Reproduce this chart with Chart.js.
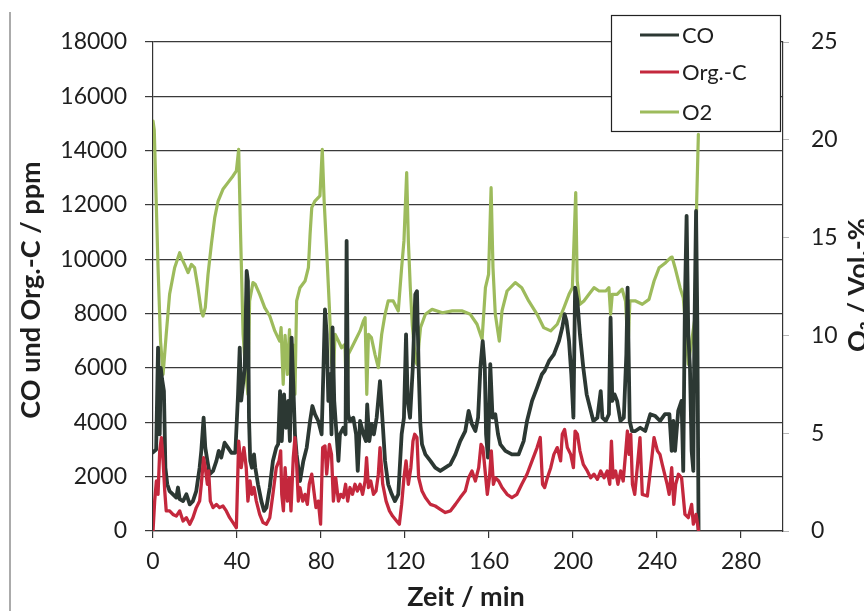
<!DOCTYPE html>
<html>
<head>
<meta charset="utf-8">
<script src="https://cdn.jsdelivr.net/npm/chart.js@4.4.1/dist/chart.umd.min.js"></script>
<style>
  html, body { margin: 0; padding: 0; background: #fff; }
  #wrap { width: 864px; height: 611px; position: relative; }
  canvas { display: block; }
</style>
</head>
<body>
<div id="wrap"><canvas id="c" width="864" height="611"></canvas></div>
<script>
// ---- Data ----
const seriesNames = ['CO', 'Org.-C', 'O2'];
const xTickStep = 40;

const coTime = [0,1.5,2.4,3.2,3.7,4.3,5.2,5.9,6.8,7.9,9.5,11.1,11.9,12.7,14.3,15.9,17.5,19,20.6,22.2,23,24.1,24.9,25.9,27,28.6,30.2,31.3,32.5,34.1,35.7,37.3,39.2,40.5,41.3,42,43.7,44.6,45.2,45.7,46.3,47.1,48.1,48.7,50,51.6,52.9,54,55.6,57.1,58.7,59.6,60.5,61.3,62.4,63.3,64.4,65.2,66,66.8,67.6,68.4,70,71.6,73.2,74.8,75.9,77.1,78.7,80.3,81.1,81.9,82.7,83.5,84.3,85,85.5,86.3,87.4,88.3,89,90.6,91.7,92.2,92.9,93.8,95.4,96.7,97.5,98.6,100.2,101.4,102,103,104.1,105.2,106.5,108.1,109.4,110.5,112,113.7,115.2,116.8,118.4,119.5,120.5,121.3,122.4,123.7,124.9,125.7,126.5,127.3,128.1,129.7,132.1,134.4,136.8,139.2,141.6,144,146.3,148.7,150.3,151.9,153.5,154.8,155.9,157,158,158.6,159.5,160.6,161.7,163,164.3,165.4,167.8,170.9,174.1,176.5,178.1,180.5,182.9,185.2,186.5,188.6,190.9,193.3,194.9,196,196.9,198.1,199.2,200.2,201,202.1,203.3,204.9,206.5,208.1,209.7,211.6,213.2,214,215.6,217.1,217.9,218.7,219.8,221,222.6,224.2,225.4,226,227,228.1,229.7,232,234.4,236.8,239.2,241.5,243.8,245.9,247,247.8,248.6,250.1,251.7,252.5,253.3,254.1,254.9,255.7,256.5,257.3,257.8,258.6,259.2,259.8];
const coValues = [2900,3000,6750,3560,6000,5600,5150,2330,1720,1470,1350,1230,1600,1170,1100,1350,980,1100,1470,2330,2950,4170,3070,2580,2090,2210,2580,2950,2700,3250,3070,2880,2880,5030,6750,4800,6000,9570,9200,4170,2580,2330,2820,2330,1720,1100,740,860,1600,2580,3070,3200,5150,3310,5030,3800,4790,3310,7120,5400,3560,2820,1840,2580,3070,4050,4600,4300,4050,3560,5770,8160,7240,4790,5770,3560,7490,4790,3560,2580,3560,3800,3560,10680,4300,4050,4170,3560,2210,4050,3560,3310,4660,3310,3930,3560,4170,5520,3930,2580,1720,1350,1100,1350,3560,4170,7240,4790,4170,6000,8710,8830,6010,3930,3190,2820,2580,2330,2210,2330,2450,2820,3310,3680,4420,3930,3680,4170,6010,6990,6010,3560,2700,6140,4170,4300,3560,3190,2950,2820,2820,3310,4050,4790,5280,5770,5900,6260,6500,6990,7490,7980,7730,6990,5770,4170,8960,8470,7240,6010,5030,4540,4050,4170,5150,4170,4050,4300,7850,4790,5030,4790,4050,4170,6500,8960,4050,3680,3680,3800,3680,4300,4230,4050,4300,4300,2950,4050,2950,4420,4790,2210,8470,11600,7240,6010,2950,2210,7240,11780,7730,0];

const orgTime = [0,0.8,1.6,2.4,3.2,4,4.8,5.6,6.3,7.9,9.5,11.1,12.7,14.3,15.9,17.5,19,20.6,22.2,23,24.1,24.9,25.9,26.5,27.3,28.6,30.2,31.7,33.3,34.9,36.5,38.1,39.7,40.8,42,43.3,44.4,45.2,46.2,47.1,48.1,49.2,50.8,52.4,54,55.6,57.1,58.7,60,60.8,61.3,62.1,62.9,64,64.9,65.7,66.8,67.6,68.4,69.2,70,71.3,72.4,73.5,74.4,75.6,76.4,77.6,78.7,79.8,80.8,81.9,82.7,84,85,85.9,87,88.3,89.4,90.6,91.7,92.7,93.8,95,96.2,97.3,98.6,99.8,101,101.7,102.6,103.7,105,106.2,107.3,108.1,109.4,111,112.6,114.1,116,117.3,118.4,119.5,120.5,121.6,122.8,123.8,124.6,125.7,126.5,128.1,129.7,132.1,134.4,136.8,139.2,141.6,144,146.3,148.7,150.3,151.9,153.5,155.1,156.2,157.1,158.3,159.2,160.2,161.1,162.1,163,164.6,166.2,168.6,170.9,173.3,175.6,178.1,180.5,182.9,184.4,185.5,186.5,187.8,189.4,190.9,192.5,194.1,194.9,196,197.3,198.9,200.2,201,202.1,203.3,204.9,206.8,208.4,210,211.6,213.2,214.8,216.3,217.5,218.3,219.1,220.3,221.4,222.7,223.9,225,225.9,226.7,227.5,228.3,229.4,230.6,231.9,233,235.4,237,238.6,240.2,241.4,242.5,244.9,245.8,247,248,248.9,250.2,251.7,253.3,254.9,256.5,257.3,258.6,259.8];
const orgValues = [0,1100,1840,1350,2950,3440,2580,1470,740,740,610,550,740,370,490,250,490,860,1100,1720,2700,2330,1720,2210,1100,860,980,860,920,740,490,310,120,3310,2330,3070,2330,1100,1840,1350,1600,1100,610,310,250,490,1350,2330,2580,2950,1350,740,2330,1100,1960,740,2700,3440,2450,1100,1600,1100,1350,980,1720,2090,1600,860,1100,250,3070,3130,2090,3190,2820,1100,1960,1100,1350,1230,1720,1100,1600,1350,1720,1470,1720,1350,1840,2700,1600,1840,1350,1470,2090,3070,1720,1100,740,550,370,250,980,1960,2580,1720,2330,3310,3560,3440,1960,1470,1230,980,920,800,680,740,980,1230,1470,1960,2210,1840,2330,3190,3070,2090,1350,1960,2950,1720,1960,1840,1600,1350,1230,1350,1720,2090,2580,3070,3440,1720,1600,1960,2330,2820,3070,2580,3560,3740,3070,2820,2330,3680,3560,2950,2450,2210,1960,2090,1900,2210,1960,2210,1720,3310,1960,2210,1720,2210,1840,2820,3680,2820,3560,1720,1350,2330,3440,1350,1290,2330,3440,2950,2820,2450,1700,1350,2330,980,1720,2090,1960,610,490,980,250,610,0];

const o2Time = [0,0.6,2.4,3.6,4.8,6.3,7.9,10.3,12.7,13.5,15,16.7,18.3,19.8,21.4,23,23.8,24.9,26.2,27.8,29.4,31,33.3,35.7,38.1,39.7,40.8,41.7,42.9,44,45.2,46,47.6,48.7,50.8,53.2,55.6,58,60.3,61,62,62.9,64,65,65.9,66.8,67.6,68.4,70,72.4,74,74.8,75.6,77.1,79.5,80.6,81.5,82.7,84,85,85.9,86.7,88.3,89.8,91.4,92.2,93,94.6,96.2,98.6,100.2,101,101.8,102.6,104,105.7,107.3,108.9,110.5,112,114.4,116.8,118.4,119.5,120.8,121.6,122.5,123.5,125,125.7,127.4,129.7,132.9,137.8,142.5,147.3,151.1,154.3,156.7,158.3,159.8,161,161.9,163,164.9,166.2,168.6,172.5,175.6,178.9,182.9,186,189.4,192.5,195.7,198.1,199.7,201.3,202,203.3,205.2,207.6,210,212.4,215.6,217.1,217.9,218.7,221,223.4,225,226.2,227.1,229.8,233,236.2,238.6,241,244.1,246.5,247.2,248.6,251,252.5,253.3,254.9,256.5,258.1,258.9,259.7];
const o2Values = [20.96,20.5,13.46,9.71,8.01,10.06,12.1,13.46,14.23,13.98,13.63,13.21,13.63,13.46,12.44,11.25,10.99,11.42,13.12,14.66,16.02,16.87,17.47,17.81,18.15,18.41,19.51,15.17,10.06,8.35,6.99,11.76,12.7,12.61,12.1,11.42,10.99,10.23,9.71,10.4,7.5,10.0,8.0,10.3,7.2,9.5,6.99,11.76,12.44,12.78,13.46,15.17,16.53,16.87,17.13,19.51,16.87,14.32,11.42,8.69,8.01,10.06,9.71,9.37,9.54,6.31,9.03,9.37,9.71,10.23,10.74,10.91,6.99,10.06,9.89,9.03,8.35,10.06,11.08,11.76,11.76,11.25,13.46,14.83,18.32,14.83,12.5,10.5,8.69,8.52,10.4,11.08,11.33,11.16,11.25,11.25,11.08,10.57,9.8,12.44,13.12,17.55,13.46,11.08,9.71,11.25,12.27,12.7,12.44,11.76,11.08,10.4,10.23,10.57,11.42,12.1,12.44,17.3,12.78,11.59,11.76,12.1,12.44,12.27,12.27,12.44,11.08,12.1,12.1,12.36,11.76,9.37,11.76,11.76,11.59,11.84,12.78,13.46,13.72,13.98,14.0,13.46,12.44,11.93,10.91,8.52,9.71,10.91,16.87,20.28];

const leftTicksMax = 18000, leftTickStep = 2000;
const rightTicksMax = 25, rightTickStep = 5;

function toXY(ts, vs) { return ts.map((t, i) => ({ x: t, y: vs[i] })); }

// ---- Styling ----
const FONT = 'Lato, "Open Sans", "DejaVu Sans", sans-serif';
const colCO = '#2c3833';
const colOrg = '#c4283d';
const colO2 = '#9dbb5c';
const PLOT = { left: 153, right: 783, top: 42, bottom: 531 };

const overlay = {
  id: 'overlay',
  beforeDraw(chart) {
    const ctx = chart.ctx;
    ctx.save();
    ctx.fillStyle = '#ffffff';
    ctx.fillRect(0, 0, chart.width, chart.height);
    ctx.strokeStyle = '#8f8f8f';
    ctx.lineWidth = 1.5;
    ctx.beginPath(); ctx.moveTo(10, 12); ctx.lineTo(10, 611); ctx.stroke();
    ctx.restore();
  },
  afterDraw(chart) {
    const ctx = chart.ctx;
    ctx.save();
    ctx.fillStyle = '#1e1e1e';
    ctx.font = 'bold 27px ' + FONT;
    ctx.textAlign = 'center';
    ctx.textBaseline = 'middle';
    ctx.fillText('Zeit / min', 466, 597);
    ctx.save();
    ctx.translate(31, 290);
    ctx.rotate(-Math.PI / 2);
    ctx.fillText('CO und Org.-C / ppm', 0, 0);
    ctx.restore();
    ctx.save();
    ctx.translate(858, 285);
    ctx.rotate(-Math.PI / 2);
    ctx.fillText('O\u2082 / Vol.-%', 0, 0);
    ctx.restore();

    const bx = 611, by = 15, bw = 169, bh = 116;
    ctx.fillStyle = '#ffffff';
    ctx.fillRect(bx, by, bw, bh);
    ctx.strokeStyle = '#222';
    ctx.lineWidth = 1.2;
    ctx.strokeRect(bx + 0.5, by + 0.5, bw, bh);
    const cols = [colCO, colOrg, colO2];
    const ys = [35, 72, 112];
    ctx.font = '22px ' + FONT;
    ctx.textAlign = 'left';
    ctx.textBaseline = 'middle';
    seriesNames.forEach((name, i) => {
      ctx.strokeStyle = cols[i];
      ctx.lineWidth = 3;
      ctx.beginPath(); ctx.moveTo(640, ys[i]); ctx.lineTo(679, ys[i]); ctx.stroke();
      ctx.fillStyle = '#1e1e1e';
      ctx.fillText(name, 682, ys[i] + 1);
    });
    ctx.restore();
  }
};

const common = { pointRadius: 0, tension: 0, fill: false, borderJoinStyle: 'round', borderCapStyle: 'round' };
const plainNum = (v) => String(v);

new Chart(document.getElementById('c'), {
  type: 'line',
  data: {
    datasets: [
      Object.assign({ label: seriesNames[0], data: toXY(coTime, coValues), borderColor: colCO, yAxisID: 'y', order: 1, borderWidth: 3.8 }, common),
      Object.assign({ label: seriesNames[1], data: toXY(orgTime, orgValues), borderColor: colOrg, yAxisID: 'y', order: 0, borderWidth: 3.3 }, common),
      Object.assign({ label: seriesNames[2], data: toXY(o2Time, o2Values), borderColor: colO2, yAxisID: 'y2', order: 2, borderWidth: 3.2 }, common)
    ]
  },
  options: {
    responsive: false,
    animation: false,
    events: [],
    layout: { padding: { top: PLOT.top, left: 0, right: 0, bottom: 0 } },
    plugins: { legend: { display: false }, tooltip: { enabled: false }, title: { display: false } },
    scales: {
      x: {
        type: 'linear', min: 0, max: 300,
        ticks: { stepSize: xTickStep, includeBounds: false, color: '#1e1e1e', font: { family: FONT, size: 23 }, padding: 10, maxRotation: 0, callback: plainNum },
        grid: { drawOnChartArea: false, drawTicks: true, tickLength: 7, color: '#333', lineWidth: 1.2 },
        border: { display: true, color: '#333', width: 1.2 },
        afterFit(s) { s.height = 611 - PLOT.bottom; }
      },
      y: {
        type: 'linear', position: 'left', min: 0, max: leftTicksMax,
        ticks: { stepSize: leftTickStep, color: '#1e1e1e', font: { family: FONT, size: 23 }, padding: 18, callback: plainNum },
        grid: { color: '#3a3a3a', lineWidth: 1.2, tickLength: 8 },
        border: { display: true, color: '#333', width: 1.2 },
        afterFit(s) { s.width = PLOT.left; }
      },
      y2: {
        type: 'linear', position: 'right', min: 0, max: rightTicksMax,
        ticks: { stepSize: rightTickStep, color: '#1e1e1e', font: { family: FONT, size: 23 }, padding: 22, callback: plainNum },
        grid: { drawOnChartArea: false, tickLength: 6, color: '#b5b5b5' },
        border: { display: true, color: '#333', width: 1.2 },
        afterFit(s) { s.width = 864 - PLOT.right; }
      }
    }
  },
  plugins: [overlay]
});
</script>
</body>
</html>
